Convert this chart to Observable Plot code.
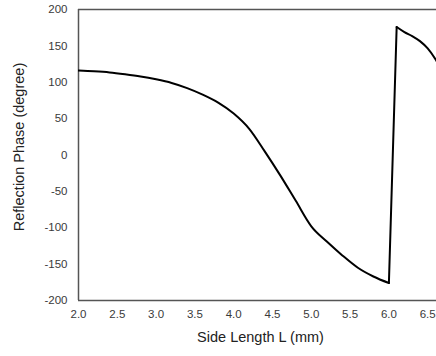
<!DOCTYPE html>
<html>
<head>
<meta charset="utf-8">
<script src="https://cdn.jsdelivr.net/npm/d3@7"></script>
<script src="https://cdn.jsdelivr.net/npm/@observablehq/plot@0.6"></script>
<style>
  html, body { margin: 0; padding: 0; background: #fff; overflow: hidden; }
  svg { display: block; }
</style>
</head>
<body>
<div id="chart"></div>
<script>
const sideLength = [2.0, 2.2, 2.4, 2.6, 2.8, 3.0, 3.2, 3.4, 3.6, 3.8, 4.0, 4.2, 4.4, 4.6, 4.8, 5.0, 5.2, 5.4, 5.6, 5.8, 6.0, 6.1, 6.2, 6.3, 6.4, 6.5, 6.6, 6.7];
const phase = [116, 115, 113.5, 111, 108, 104, 99, 92, 83, 72, 57, 36, 5, -28, -63, -98, -119, -138, -155, -167, -176, 176, 169, 163.5, 156.5, 146.5, 131.5, 112];
const xTicks = [2.0, 2.5, 3.0, 3.5, 4.0, 4.5, 5.0, 5.5, 6.0, 6.5];
const yTicks = [-200, -150, -100, -50, 0, 50, 100, 150, 200];
const xTitle = "Side Length L (mm)";
const yTitle = "Reflection Phase (degree)";

// the phase wraps between consecutive samples where it jumps up by > 180°
const data = [];
let branch = 0;
sideLength.forEach((L, i) => {
  if (i > 0 && phase[i] - phase[i - 1] > 180) branch++;
  data.push({L, p: phase[i], branch});
});
const jump = [];
for (let i = 1; i < data.length; i++) {
  if (data[i].branch !== data[i - 1].branch) jump.push(data[i - 1], data[i]);
}

const chart = Plot.plot({
  width: 436,
  height: 356,
  marginLeft: 78,
  marginRight: 0,
  marginTop: 9,
  marginBottom: 56,
  style: {fontFamily: "'Liberation Sans', Arial, sans-serif", fontSize: "11.5px", color: "#3a3a3a", background: "#fff", overflow: "hidden"},
  x: {domain: [2, 2 + 358 / 77.6], ticks: xTicks, tickFormat: d3.format(".1f"), tickSize: 0, tickPadding: 9, label: null},
  y: {domain: [-200, 200], ticks: yTicks, tickFormat: d => `${d}`, tickSize: 0, tickPadding: 11, label: null},
  marks: [
    Plot.ruleY([-200, 200], {stroke: "#555", strokeWidth: 1.5}),
    Plot.ruleX([2], {stroke: "#555", strokeWidth: 1.5}),
    Plot.line(data, {x: "L", y: "p", z: "branch", stroke: "#000", strokeWidth: 2, curve: "monotone-x", clip: true}),
    Plot.line(jump, {x: "L", y: "p", stroke: "#000", strokeWidth: 2, strokeLinejoin: "miter", clip: true}),
    Plot.text([xTitle], {frameAnchor: "bottom", dy: 41, dx: 3, fontSize: 14.5, fill: "#222"}),
    Plot.text([yTitle], {frameAnchor: "left", textAnchor: "middle", lineAnchor: "middle", dx: -59, dy: -8, rotate: -90, fontSize: 14.5, fill: "#222"})
  ]
});
document.getElementById("chart").appendChild(chart);
</script>
</body>
</html>
